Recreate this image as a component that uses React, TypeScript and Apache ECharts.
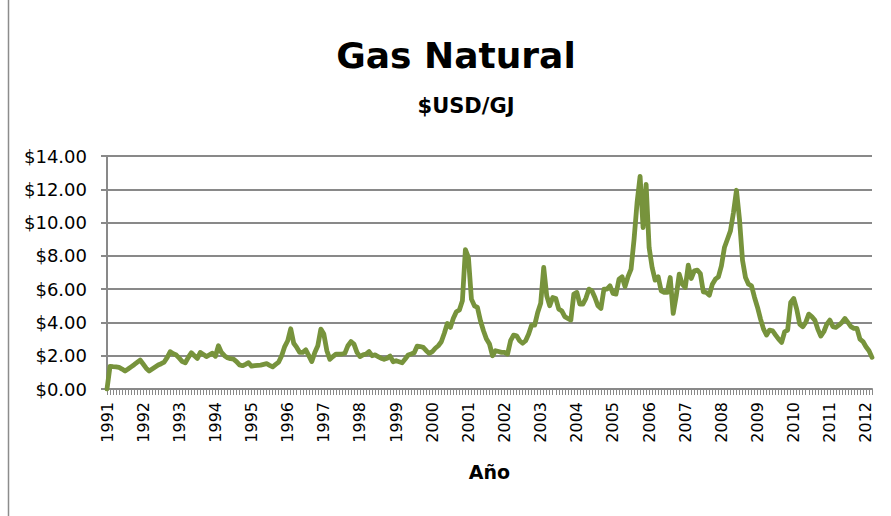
import React, { useEffect, useRef } from "react";
import * as echarts from "echarts";

const yearLabels = ["1991","1992","1993","1994","1995","1996","1997","1998","1999","2000","2001","2002","2003","2004","2005","2006","2007","2008","2009","2010","2011","2012"];
const monthCodes = ["01","02","03","04","05","06","07","08","09","10","11","12"];

const v1991 = [0, 1.36, 1.34, 1.33, 1.3, 1.2, 1.08, 1.2, 1.33, 1.46, 1.6, 1.74];
const v1992 = [1.5, 1.25, 1.08, 1.2, 1.32, 1.44, 1.52, 1.62, 1.9, 2.24, 2.12, 2.04];
const v1993 = [1.85, 1.65, 1.58, 1.9, 2.18, 2.0, 1.84, 2.2, 2.08, 1.95, 2.05, 2.15];
const v1994 = [1.97, 2.6, 2.2, 2.0, 1.88, 1.82, 1.8, 1.65, 1.45, 1.4, 1.48, 1.58];
const v1995 = [1.37, 1.4, 1.42, 1.44, 1.48, 1.52, 1.42, 1.33, 1.48, 1.62, 2.0, 2.55];
const v1996 = [2.9, 3.62, 2.75, 2.5, 2.2, 2.2, 2.35, 2.0, 1.65, 2.2, 2.6, 3.6];
const v1997 = [3.3, 2.3, 1.78, 1.95, 2.1, 2.1, 2.1, 2.15, 2.6, 2.85, 2.7, 2.2];
const v1998 = [1.95, 2.05, 2.1, 2.25, 2.0, 2.05, 1.95, 1.85, 1.78, 1.85, 1.98, 1.64];
const v1999 = [1.7, 1.64, 1.58, 1.8, 2.04, 2.1, 2.18, 2.58, 2.55, 2.5, 2.3, 2.14];
const v2000 = [2.24, 2.45, 2.6, 2.84, 3.35, 3.94, 3.7, 4.25, 4.64, 4.75, 5.3, 8.38];
const v2001 = [7.9, 5.4, 5.0, 4.9, 4.1, 3.5, 3.0, 2.7, 2.0, 2.3, 2.25, 2.2];
const v2002 = [2.2, 2.1, 2.9, 3.24, 3.2, 2.9, 2.75, 2.9, 3.3, 3.84, 3.84, 4.6];
const v2003 = [5.15, 7.3, 5.6, 5.0, 5.5, 5.44, 4.8, 4.7, 4.35, 4.24, 4.14, 5.7];
const v2004 = [5.8, 5.1, 5.1, 5.45, 6.0, 5.9, 5.5, 5.0, 4.84, 6.0, 6.0, 6.2];
const v2005 = [5.74, 5.7, 6.6, 6.74, 6.15, 6.75, 7.2, 9.0, 11.2, 12.78, 9.7, 12.3];
const v2006 = [8.5, 7.3, 6.54, 6.74, 5.9, 5.8, 5.8, 6.7, 4.54, 5.6, 6.9, 6.3];
const v2007 = [6.1, 7.44, 6.64, 7.1, 7.14, 6.94, 5.84, 5.8, 5.64, 6.3, 6.6, 6.74];
const v2008 = [7.4, 8.5, 9.0, 9.5, 10.6, 11.94, 10.2, 7.74, 6.7, 6.3, 6.2, 5.5];
const v2009 = [4.9, 4.2, 3.6, 3.24, 3.54, 3.5, 3.24, 3.0, 2.8, 3.44, 3.54, 5.2];
const v2010 = [5.44, 4.8, 3.9, 3.74, 4.0, 4.5, 4.35, 4.14, 3.6, 3.18, 3.44, 3.9];
const v2011 = [4.14, 3.75, 3.7, 3.84, 4.0, 4.24, 4.0, 3.75, 3.64, 3.64, 3.0, 2.85];
const v2012 = [2.54, 2.3, 1.9];

const yearValues = [v1991, v1992, v1993, v1994, v1995, v1996, v1997, v1998, v1999, v2000, v2001, v2002, v2003, v2004, v2005, v2006, v2007, v2008, v2009, v2010, v2011, v2012];

const categories: string[] = [];
const values: number[] = [];
yearValues.forEach((arr, yi) => {
  arr.forEach((v, mi) => {
    categories.push(yearLabels[yi] + "-" + monthCodes[mi]);
    values.push(v);
  });
});

const TEXT = "#000000";
const GRID = "#898989";
const LINE = "#77933C";

export default function App() {
  const ref = useRef<HTMLDivElement>(null);
  useEffect(() => {
    if (!ref.current) return;
    const chart = echarts.init(ref.current, undefined, { renderer: "svg" });
    chart.setOption({
      animation: false,
      backgroundColor: "#ffffff",
      graphic: [
        {
          type: "line",
          shape: { x1: 8.5, y1: 0, x2: 8.5, y2: 516 },
          style: { stroke: "#8c8c8c", lineWidth: 1.5 },
        },
        {
          type: "text",
          x: 456,
          y: 55,
          style: {
            text: "Gas Natural",
            font: "bold 36px 'DejaVu Sans'",
            fill: TEXT,
            textAlign: "center",
            textVerticalAlign: "middle",
          },
        },
        {
          type: "text",
          x: 466,
          y: 106,
          style: {
            text: "$USD/GJ",
            font: "bold 21px 'DejaVu Sans'",
            fill: TEXT,
            textAlign: "center",
            textVerticalAlign: "middle",
          },
        },
      ],
      grid: { left: 107, top: 156, width: 765, height: 233, containLabel: false },
      xAxis: {
        type: "category",
        data: categories,
        boundaryGap: false,
        name: "Año",
        nameLocation: "middle",
        nameGap: 73,
        nameTextStyle: { fontFamily: "DejaVu Sans", fontWeight: "bold", fontSize: 19, color: TEXT },
        axisLine: { show: true, lineStyle: { color: GRID, width: 2 } },
        axisTick: { show: true, interval: 0, length: 6, lineStyle: { color: GRID, width: 1 } },
        axisLabel: {
          interval: (idx: number) => idx % 12 === 0,
          formatter: (val: string) => val.slice(0, 4),
          rotate: 90,
          margin: 13,
          fontFamily: "DejaVu Sans",
          fontSize: 16,
          color: TEXT,
        },
        splitLine: { show: false },
      },
      yAxis: {
        type: "value",
        min: 0,
        max: 14,
        interval: 2,
        axisLine: { show: true, lineStyle: { color: GRID, width: 2 } },
        axisTick: { show: true, length: 6, lineStyle: { color: GRID, width: 2 } },
        axisLabel: {
          formatter: (v: number) => "$" + v.toFixed(2),
          margin: 20,
          fontFamily: "DejaVu Sans",
          fontSize: 18,
          color: TEXT,
        },
        splitLine: { show: true, lineStyle: { color: GRID, width: 2 } },
      },
      series: [
        {
          type: "line",
          data: values,
          showSymbol: false,
          symbol: "none",
          lineStyle: { color: LINE, width: 4.8, join: "round", cap: "round" },
          itemStyle: { color: LINE },
        },
      ],
    });
    return () => chart.dispose();
  }, []);
  return (
    <div
      ref={ref}
      style={{ position: "absolute", left: 0, top: 0, width: 891, height: 516 }}
    />
  );
}
